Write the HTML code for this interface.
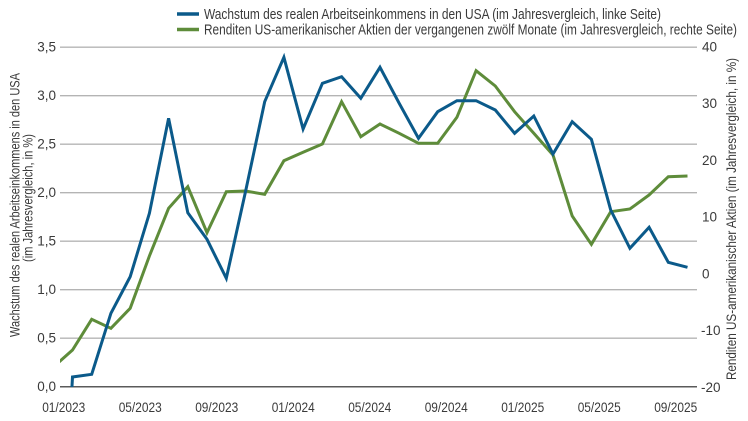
<!DOCTYPE html>
<html><head><meta charset="utf-8"><style>
html,body{margin:0;padding:0;background:#fff;}
svg{display:block;}
text{font-family:"Liberation Sans Narrow","Liberation Sans",sans-serif;fill:#3a3a3a;}
</style></head><body>
<svg width="748" height="421" viewBox="0 0 748 421" xmlns="http://www.w3.org/2000/svg">
<defs><clipPath id="c"><rect x="60" y="30" width="637" height="357"/></clipPath></defs>
<!-- legend -->
<line x1="177" y1="14" x2="199" y2="14" stroke="#0b5a8a" stroke-width="3.5"/>
<line x1="177" y1="29.5" x2="199" y2="29.5" stroke="#5e8c3a" stroke-width="3.5"/>
<text x="204" y="19" font-size="15" textLength="457" lengthAdjust="spacingAndGlyphs">Wachstum des realen Arbeitseinkommens in den USA (im Jahresvergleich, linke Seite)</text>
<text x="204" y="34.5" font-size="15" textLength="533" lengthAdjust="spacingAndGlyphs">Renditen US-amerikanischer Aktien der vergangenen zwölf Monate (im Jahresvergleich, rechte Seite)</text>
<!-- gridlines -->
<g stroke="#b4b4b4" stroke-width="1.3">
<line x1="60" y1="47.2" x2="697" y2="47.2"/>
<line x1="60" y1="95.7" x2="697" y2="95.7"/>
<line x1="60" y1="144.2" x2="697" y2="144.2"/>
<line x1="60" y1="192.7" x2="697" y2="192.7"/>
<line x1="60" y1="241.2" x2="697" y2="241.2"/>
<line x1="60" y1="289.7" x2="697" y2="289.7"/>
<line x1="60" y1="338.2" x2="697" y2="338.2"/>
</g>
<line x1="60" y1="386.7" x2="697" y2="386.7" stroke="#5a5a5a" stroke-width="1.5"/>
<!-- left ticks -->
<g font-size="13.5" text-anchor="end">
<text x="56" y="51.7">3,5</text>
<text x="56" y="100.2">3,0</text>
<text x="56" y="148.7">2,5</text>
<text x="56" y="197.2">2,0</text>
<text x="56" y="245.7">1,5</text>
<text x="56" y="294.2">1,0</text>
<text x="56" y="342.7">0,5</text>
<text x="56" y="391.2">0,0</text>
</g>
<!-- right ticks -->
<g font-size="13.5">
<text x="702" y="51.5">40</text>
<text x="702" y="108">30</text>
<text x="702" y="164.8">20</text>
<text x="702" y="221.6">10</text>
<text x="702" y="278.4">0</text>
<text x="701" y="335">-10</text>
<text x="701" y="391.8">-20</text>
</g>
<!-- x labels -->
<g font-size="13.5" text-anchor="middle">
<text x="63.7" y="412" textLength="43" lengthAdjust="spacingAndGlyphs">01/2023</text>
<text x="140.2" y="412" textLength="43" lengthAdjust="spacingAndGlyphs">05/2023</text>
<text x="216.7" y="412" textLength="43" lengthAdjust="spacingAndGlyphs">09/2023</text>
<text x="293.2" y="412" textLength="43" lengthAdjust="spacingAndGlyphs">01/2024</text>
<text x="369.7" y="412" textLength="43" lengthAdjust="spacingAndGlyphs">05/2024</text>
<text x="446.2" y="412" textLength="43" lengthAdjust="spacingAndGlyphs">09/2024</text>
<text x="522.7" y="412" textLength="43" lengthAdjust="spacingAndGlyphs">01/2025</text>
<text x="599.2" y="412" textLength="43" lengthAdjust="spacingAndGlyphs">05/2025</text>
<text x="675.7" y="412" textLength="43" lengthAdjust="spacingAndGlyphs">09/2025</text>
</g>
<!-- axis titles -->
<text transform="translate(19.5,205) rotate(-90)" font-size="13.5" text-anchor="middle" textLength="264" lengthAdjust="spacingAndGlyphs">Wachstum des realen Arbeitseinkommens in den USA</text>
<text transform="translate(32.5,198) rotate(-90)" font-size="13.5" text-anchor="middle" textLength="128" lengthAdjust="spacingAndGlyphs">(im Jahresvergleich, in %)</text>
<text transform="translate(736,219) rotate(-90)" font-size="13.5" text-anchor="middle" textLength="322" lengthAdjust="spacingAndGlyphs">Renditen US-amerikanischer Aktien (im Jahresvergleich, in %)</text>
<!-- series -->
<g clip-path="url(#c)" fill="none" stroke-width="3" stroke-linejoin="miter" stroke-linecap="butt">
<polyline stroke="#5e8c3a" points="53.3,367 72.5,350 91.7,319.3 110.9,328.3 130.2,308.3 149.4,256 168.6,208.3 187.8,186.7 207,232.7 226.3,191.7 245.5,191 264.7,194.3 283.9,160.7 303.1,152.3 322.4,144 341.6,101.7 360.8,136.7 380,124 399.2,133.3 418.5,143.3 437.7,143.3 456.9,117.3 476.1,70.7 495.3,86 514.6,111.7 533.8,133.3 553,155 572.2,216 591.4,244.3 610.7,211.7 629.9,209 649.1,195 668.3,176.7 687.5,176"/>
<polyline stroke="#0b5a8a" points="71.8,390 72.5,377 91.7,374.3 110.9,313.3 130.2,276.7 149.4,213.3 168.6,118.3 187.8,212.7 207,239.3 226.3,278.3 245.5,191.7 264.7,101.7 283.9,57.3 303.1,129 322.4,83.3 341.6,76.7 360.8,98.3 380,67.3 399.2,103.3 418.5,138.3 437.7,111.7 456.9,100.7 476.1,100.7 495.3,110 514.6,133.3 533.8,116 553,154 572.2,121.7 591.4,139.3 610.7,210 629.9,248.3 649.1,227.3 668.3,262.3 687.5,267.3"/>
</g>
</svg>
</body></html>
